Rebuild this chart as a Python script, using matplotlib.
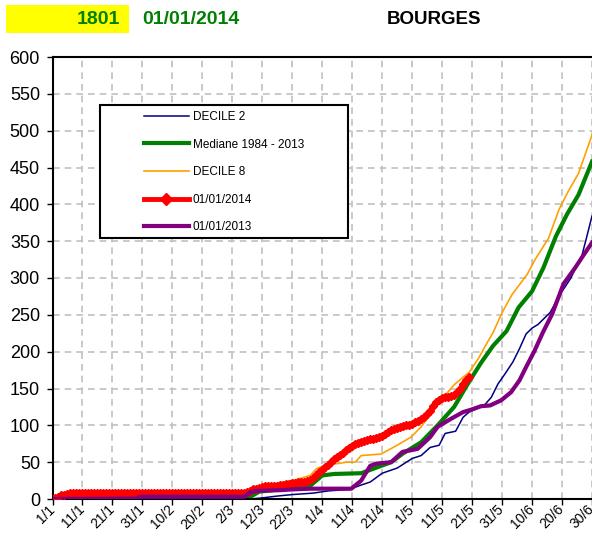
import numpy as np
import matplotlib
matplotlib.use("Agg")
import matplotlib.pyplot as plt
from matplotlib.patches import Rectangle

plt.rcParams['font.family'] = ['Liberation Sans', 'DejaVu Sans']

# tick labels (day of year from 1/1)
tick_days = [0, 10, 20, 30, 40, 50, 60, 70, 80, 90, 100, 110, 120, 130, 140, 150, 160, 170, 180]
tick_labels = ['1/1', '11/1', '21/1', '31/1', '10/2', '20/2', '2/3', '12/3', '22/3', '1/4',
               '11/4', '21/4', '1/5', '11/5', '21/5', '31/5', '10/6', '20/6', '30/6']

# DECILE 2
d2_days = [0, 66, 70, 75, 80, 87, 92, 99, 103, 106, 110, 115, 120, 123, 126, 129, 131, 134.5,
           137, 139, 144, 146.4, 148.6, 151, 153.6, 155.8, 158, 160, 162, 166, 169.4, 172.8,
           176.6, 178, 180]
d2_vals = [0, 0, 1.5, 4, 6, 8, 11, 13, 19, 23, 35, 42, 55, 59, 70, 73, 89, 92,
           111, 118, 127, 138, 156, 170, 186, 204, 224, 232, 237, 253, 278, 299,
           330, 352, 384]

# Mediane 1984 - 2013
med_days = [0, 30, 60, 66, 69, 78, 86, 90, 94, 103, 107, 113, 117, 123, 128.5, 134, 138.5,
            143, 147, 151.5, 155.5, 160, 163.8, 168, 171.6, 175.5, 180]
med_vals = [0, 0.5, 1, 3, 10, 14, 18, 32, 34, 35, 41, 50, 62, 77, 100, 125, 156,
            185, 208, 228, 260, 282, 314, 357, 386, 413, 458]

# DECILE 8
d8_days = [0, 30, 60, 63, 68, 75, 81, 86, 88, 91, 95, 98, 101, 103, 109.6, 115, 119.6, 123,
           129.6, 134, 136, 139, 142, 145, 147, 150, 153.4, 158.4, 161, 165.5, 169, 172,
           175.5, 180]
d8_vals = [0, 2, 4, 5, 12, 21, 26, 32, 41, 46, 48, 50, 50, 59, 61, 73, 84, 98,
           134, 155, 162, 172, 190, 212, 226, 253, 278, 305, 325, 354, 393, 417,
           442, 494]

# 01/01/2014 (daily, from 1/1)
y2014 = [0, 1, 3, 5, 6, 7,
         8, 8, 8, 8, 8, 8, 8, 8, 8, 8, 8, 8, 8, 8, 8, 8, 8, 8, 8, 8, 8, 8, 8, 8,
         8, 8, 8, 8, 8, 8, 8, 8, 8, 8, 8, 8, 8, 8, 8, 8, 8, 8, 8, 8, 8, 8, 8, 8,
         8, 8, 8, 8, 8, 8, 8, 8, 8, 8, 8,
         9, 11, 13, 14, 15, 16, 17, 17, 18, 18, 18, 19, 19, 20, 21, 22, 22, 23, 23, 23,
         24, 26, 29, 33, 37, 40, 43, 46, 50, 54, 57, 60, 63, 66, 69, 72, 74, 76, 78, 79,
         80, 81, 82, 83, 84, 86, 88, 91, 93, 95, 97, 98, 99, 100, 101, 102, 104, 106, 108, 111,
         115, 120, 126, 131, 135, 137, 138, 139, 140, 141, 145, 150, 156, 162, 166]

# 01/01/2013
y13_days = [0, 28, 29, 64, 66, 68, 76, 80, 86, 99.7, 103, 106, 108, 113, 116.8, 121.8, 126,
            128.5, 133, 137, 139.5, 143, 146, 149.7, 153, 155.8, 158, 160.8, 163.6, 166.7,
            170.5, 174.4, 177, 180]
y13_vals = [0, 0.5, 3, 3, 9, 11, 12, 13, 14, 14, 25, 45, 48, 50, 64, 68, 84,
            98, 109, 118, 121, 126, 127, 134, 145, 161, 179, 201, 226, 251,
            292, 314, 330, 348]

fig = plt.figure(figsize=(5.92, 5.33), dpi=100)
ax = fig.add_axes([52.5 / 592, 34 / 533, 1 - 52.5 / 592, (499 - 57) / 533])

ax.plot(d2_days, d2_vals, color='#000080', lw=1.1, label='DECILE 2', zorder=2)
ax.plot(med_days, med_vals, color='#008000', lw=3.0, label='Mediane 1984 - 2013', zorder=2)
ax.plot(d8_days, d8_vals, color='#FFA000', lw=1.2, label='DECILE 8', zorder=2)
ax.plot(np.arange(len(y2014)), y2014, color='#FF0000', lw=3.5, marker='D', ms=4.5,
        label='01/01/2014', zorder=3)
ax.plot(y13_days, y13_vals, color='#800080', lw=3.0, label='01/01/2013', zorder=3)

ax.set_xlim(0, 180)
ax.set_ylim(0, 600)
ax.set_yticks(np.arange(0, 601, 50))
ax.set_xticks(tick_days)
ax.set_xticklabels(tick_labels, rotation=45, ha='right', va='center',
                   rotation_mode='anchor', fontsize=10)
ax.tick_params(axis='y', labelsize=13, length=4, width=1, direction='out', pad=5)
ax.tick_params(axis='x', length=4, width=1, direction='out', pad=2)
ax.grid(True, color='#c0c0c0', ls=(0, (4, 3)), lw=1.2, zorder=0)
ax.set_axisbelow(True)
for s in ['left', 'bottom', 'top']:
    ax.spines[s].set_linewidth(1.5)
    ax.spines[s].set_color('black')
ax.spines['right'].set_visible(False)

# legend box
box = Rectangle((100 / 592, 1 - 238 / 533), 248 / 592, 133 / 533, transform=fig.transFigure,
                facecolor='white', edgecolor='black', lw=1.5, zorder=4, clip_on=False)
ax.add_patch(box)
leg = ax.legend(loc='upper left', bbox_to_anchor=(144 / 592, 1 - 111 / 533),
                bbox_transform=fig.transFigure, frameon=False, fontsize=8.5,
                handlelength=3.8, handletextpad=0.35, labelspacing=1.32,
                borderpad=0, borderaxespad=0, numpoints=1)
leg.set_zorder(5)
for h in leg.legend_handles:
    if h.get_marker() == 'D':
        h.set_markersize(6)

# header
fig.patches.append(Rectangle((6 / 592, 1 - 33 / 533), 123 / 592, 28 / 533,
                             transform=fig.transFigure, facecolor='#FFFF00',
                             edgecolor='none', zorder=0))
fig.text(120 / 592, 1 - 19 / 533, '1801', color='#008000', fontsize=14,
         fontweight='bold', ha='right', va='center')
fig.text(142 / 592, 1 - 19 / 533, '01/01/2014', color='#008000', fontsize=14,
         fontweight='bold', ha='left', va='center')
fig.text(434 / 592, 1 - 19 / 533, 'BOURGES', color='black', fontsize=13.5,
         fontweight='bold', ha='center', va='center')

fig.savefig('out.png', dpi=100)
